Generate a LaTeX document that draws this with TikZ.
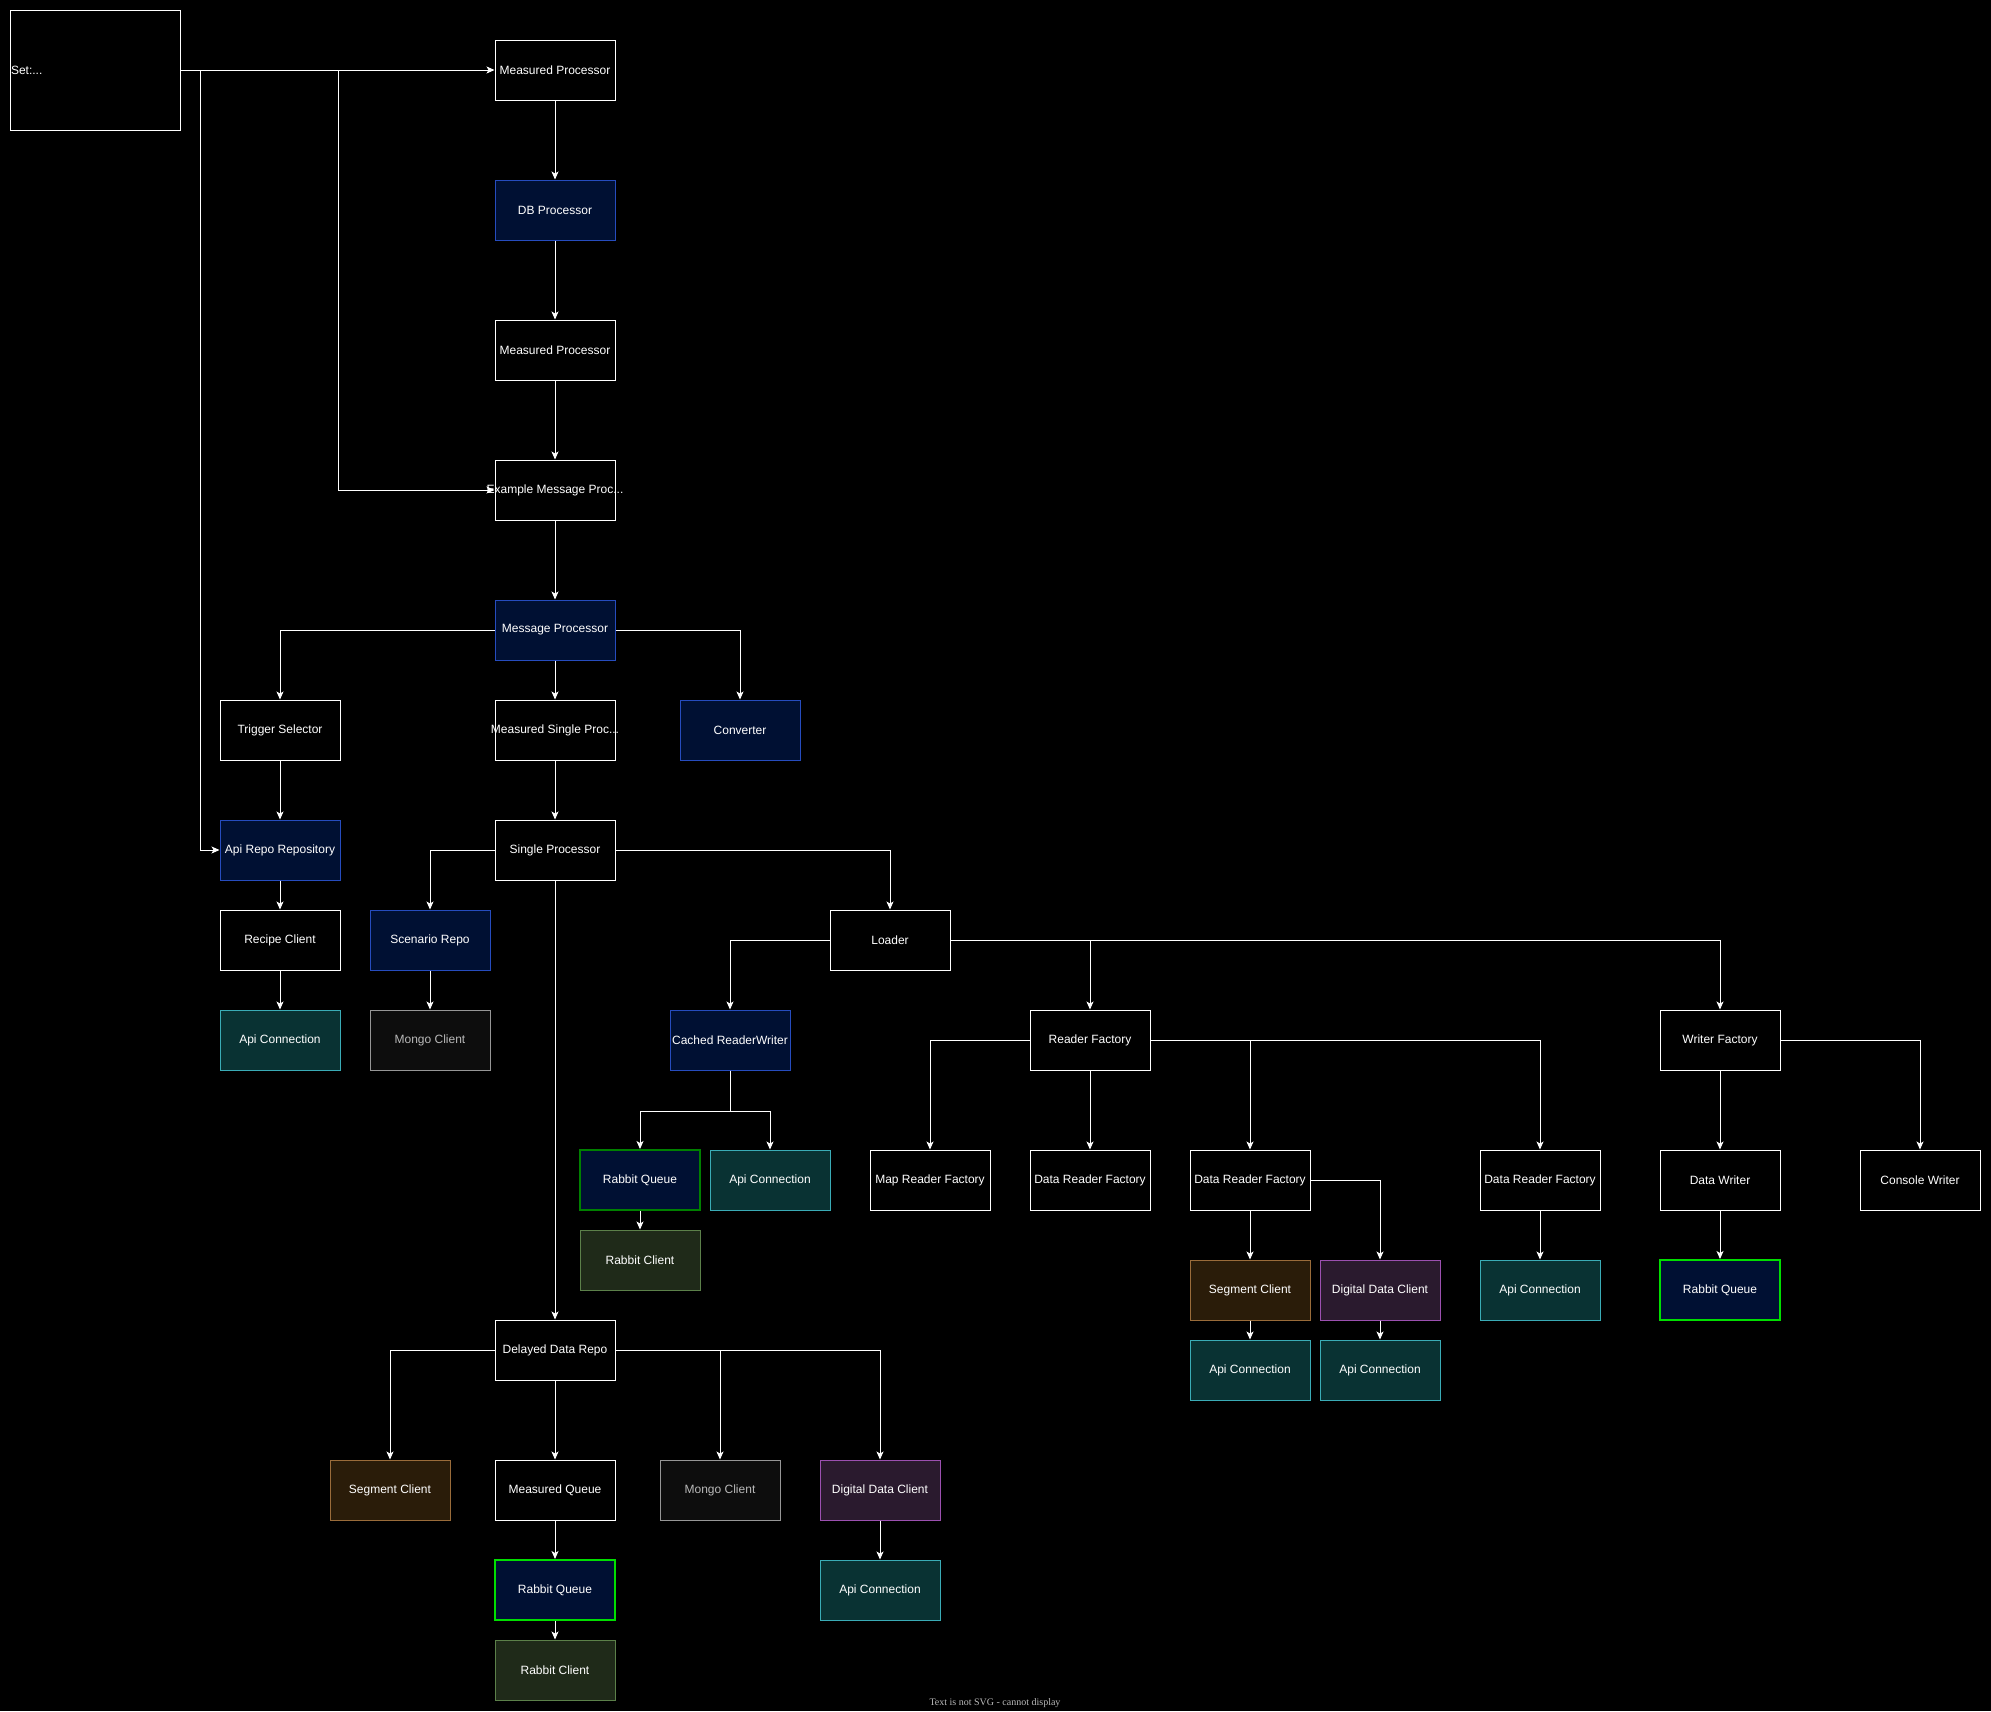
\documentclass[tikz,border=0pt]{standalone}
\usepackage{fontspec}
\setmainfont{Liberation Sans}
\newfontfamily\notefont{Liberation Serif}
\usetikzlibrary{arrows.meta}
\definecolor{navyfill}{RGB}{0,16,51}
\definecolor{navyline}{RGB}{38,76,190}
\definecolor{tealfill}{RGB}{9,50,51}
\definecolor{tealline}{RGB}{58,172,182}
\definecolor{mongofill}{RGB}{13,13,13}
\definecolor{mongoline}{RGB}{150,150,150}
\definecolor{mongotext}{RGB}{185,185,185}
\definecolor{olivefill}{RGB}{31,42,25}
\definecolor{oliveline}{RGB}{92,128,74}
\definecolor{segfill}{RGB}{42,28,9}
\definecolor{segline}{RGB}{154,108,58}
\definecolor{digifill}{RGB}{42,26,46}
\definecolor{digiline}{RGB}{155,80,176}
\definecolor{qdark}{RGB}{0,128,0}
\definecolor{qbright}{RGB}{0,222,0}
\begin{document}
\begin{tikzpicture}[x=1pt,y=-1pt,
  box/.style={draw=white,fill=black,text=white,line width=1pt,minimum width=120pt,minimum height=60pt,inner sep=0pt,font=\fontsize{12}{14}\selectfont},
  blu/.style={box,draw=navyline,fill=navyfill},
  tealbox/.style={box,draw=tealline,fill=tealfill},
  mongo/.style={box,draw=mongoline,fill=mongofill,text=mongotext},
  rclient/.style={box,draw=oliveline,fill=olivefill},
  seg/.style={box,draw=segline,fill=segfill},
  digi/.style={box,draw=digiline,fill=digifill},
  rq/.style={blu,draw=qbright,line width=2pt},
  edge/.style={draw=white,line width=1pt,-{Stealth[length=8pt,width=7pt,inset=2pt]}}]
\fill[black] (0,0) rectangle (1991,1711);
\useasboundingbox (0,0) rectangle (1991,1711);
% top chain
\node[box,minimum width=170pt,minimum height=120pt,text width=168pt,align=left] (set) at (95,70) {Set:...};
\node[box] (mp1) at (555,70) {Measured Processor};
\node[blu] (db) at (555,210) {DB Processor};
\node[box] (mp2) at (555,350) {Measured Processor};
\node[box] (emp) at (555,490) {\makebox[0pt]{Example Message Proc...}};
\node[blu] (msg) at (555,630) {Message Processor};
\node[box] (trig) at (280,730) {Trigger Selector};
\node[box] (msp) at (555,730) {\makebox[0pt]{Measured Single Proc...}};
\node[blu] (conv) at (740,730) {Converter};
\node[blu] (arepo) at (280,850) {Api Repo Repository};
\node[box] (single) at (555,850) {Single Processor};
\node[box] (recipe) at (280,940) {Recipe Client};
\node[blu] (scen) at (430,940) {Scenario Repo};
\node[box] (loader) at (890,940) {Loader};
\node[tealbox] (api1) at (280,1040) {Api Connection};
\node[mongo] (mongo1) at (430,1040) {Mongo Client};
\node[blu] (crw) at (730,1040) {Cached ReaderWriter};
\node[box] (rf) at (1090,1040) {Reader Factory};
\node[box] (wf) at (1720,1040) {Writer Factory};
% readers and writers
\node[rq,draw=qdark] (rq1) at (640,1180) {Rabbit Queue};
\node[tealbox] (api2) at (770,1180) {Api Connection};
\node[box] (mrf) at (930,1180) {Map Reader Factory};
\node[box] (drf1) at (1090,1180) {Data Reader Factory};
\node[box] (drf2) at (1250,1180) {Data Reader Factory};
\node[box] (drf3) at (1540,1180) {Data Reader Factory};
\node[box] (dw) at (1720,1180) {Data Writer};
\node[box] (cw) at (1920,1180) {Console Writer};
\node[rclient] (rc1) at (640,1260) {Rabbit Client};
\node[seg] (seg1) at (1250,1290) {Segment Client};
\node[digi] (ddc1) at (1380,1290) {Digital Data Client};
\node[tealbox] (api3) at (1540,1290) {Api Connection};
\node[rq] (rq2) at (1720,1290) {Rabbit Queue};
\node[tealbox] (api4) at (1250,1370) {Api Connection};
\node[tealbox] (api5) at (1380,1370) {Api Connection};
% delayed repo
\node[box] (ddr) at (555,1350) {Delayed Data Repo};
\node[seg] (seg2) at (390,1490) {Segment Client};
\node[box] (mq) at (555,1490) {Measured Queue};
\node[mongo] (mongo2) at (720,1490) {Mongo Client};
\node[digi] (ddc2) at (880,1490) {Digital Data Client};
\node[rq] (rq3) at (555,1590) {Rabbit Queue};
\node[tealbox] (api6) at (880,1590) {Api Connection};
\node[rclient] (rc2) at (555,1670) {Rabbit Client};
\node[text=mongotext,font=\notefont\fontsize{10}{12}\selectfont] (note) at (995,1703) {Text is not SVG - cannot display};
% connectors
\coordinate (ja) at (200,70);
\coordinate (jb) at (338,70);
\draw[edge] (set.east) -- (mp1.west);
\draw[edge] (ja) |- (arepo.west);
\draw[edge] (jb) |- (emp.west);
\draw[edge] (mp1) -- (db);
\draw[edge] (db) -- (mp2);
\draw[edge] (mp2) -- (emp);
\draw[edge] (emp) -- (msg);
\draw[edge] (msg.west) -| (trig.north);
\draw[edge] (msg) -- (msp);
\draw[edge] (msg.east) -| (conv.north);
\draw[edge] (trig) -- (arepo);
\draw[edge] (msp) -- (single);
\draw[edge] (arepo) -- (recipe);
\draw[edge] (recipe) -- (api1);
\draw[edge] (single.west) -| (scen.north);
\draw[edge] (scen) -- (mongo1);
\draw[edge] (single.east) -| (loader.north);
\draw[edge] (single) -- (ddr);
\draw[edge] (loader.west) -| (crw.north);
\draw[edge] (loader.east) -| (rf.north);
\draw[edge] (loader.east) -| (wf.north);
\draw[edge] (crw.south) -- ++(0,41) -| (rq1.north);
\draw[edge] (crw.south) -- ++(0,41) -| (api2.north);
\draw[edge] (rq1) -- (rc1);
\draw[edge] (rf.west) -| (mrf.north);
\draw[edge] (rf) -- (drf1);
\draw[edge] (rf.east) -| (drf2.north);
\draw[edge] (rf.east) -| (drf3.north);
\draw[edge] (drf2) -- (seg1);
\draw[edge] (drf2.east) -| (ddc1.north);
\draw[edge] (seg1) -- (api4);
\draw[edge] (ddc1) -- (api5);
\draw[edge] (drf3) -- (api3);
\draw[edge] (wf) -- (dw);
\draw[edge] (dw) -- (rq2);
\draw[edge] (wf.east) -| (cw.north);
\draw[edge] (ddr.west) -| (seg2.north);
\draw[edge] (ddr) -- (mq);
\draw[edge] (ddr.east) -| (mongo2.north);
\draw[edge] (ddr.east) -| (ddc2.north);
\draw[edge] (mq) -- (rq3);
\draw[edge] (rq3) -- (rc2);
\draw[edge] (ddc2) -- (api6);
\end{tikzpicture}
\end{document}
